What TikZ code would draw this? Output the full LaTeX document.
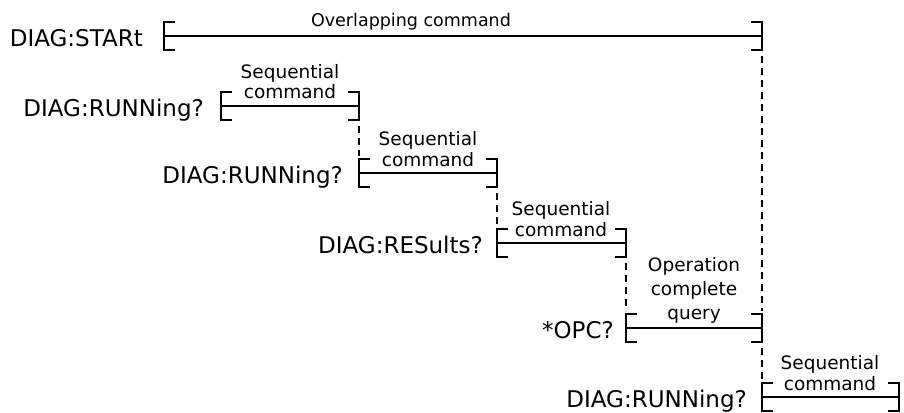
\documentclass[tikz,border=0pt]{standalone}
\usepackage{fontspec}
\setmainfont{DejaVu Sans}
\begin{document}
\begin{tikzpicture}[x=1pt,y=-1pt,
  span/.style={minimum height=28pt, inner sep=0pt, outer sep=0pt},
  brk/.style={line width=2.1pt},
  cmd/.style={font=\fontsize{23}{26}\selectfont, anchor=base east, inner sep=0pt},
  lbl/.style={font=\fontsize{18.5}{20}\selectfont, anchor=base, inner sep=0pt},
  wait/.style={dash pattern=on 7pt off 5pt, line width=1.7pt, shorten <=6pt, shorten >=3pt}]
\useasboundingbox (0,0) rectangle (904,412);

% spans (brackets)
\node[span, minimum width=598pt] (b1) at (463,36) {};
\node[span, minimum width=138pt] (b2) at (290,106) {};
\node[span, minimum width=138pt] (b3) at (428,173) {};
\node[span, minimum width=129pt] (b4) at (561.5,243) {};
\node[span, minimum width=136pt] (b5) at (694,328) {};
\node[span, minimum width=137pt] (b6) at (830.5,397) {};

\foreach \n in {b1,b2,b3,b4,b5,b6}{
  \draw[brk] ([xshift=11pt]\n.north west) -- (\n.north west) -- (\n.south west) -- ([xshift=11pt]\n.south west);
  \draw[brk] (\n.west) -- (\n.east);
  \draw[brk] ([xshift=-11pt]\n.north east) -- (\n.north east) -- (\n.south east) -- ([xshift=-11pt]\n.south east);
}

% commands
\node[cmd] (c1) at (143,47) {DIAG:STARt};
\node[cmd] (c2) at (204,116) {DIAG:RUNNing?};
\node[cmd] (c3) at (343,183) {DIAG:RUNNing?};
\node[cmd] (c4) at (483,253) {DIAG:RESults?};
\node[cmd] (c5) at (614,338) {*OPC?};
\node[cmd] (c6) at (747,407) {DIAG:RUNNing?};

% labels
\node[lbl, font=\fontsize{17.5}{20}\selectfont] (l1) at (411,27) {Overlapping command};
\node[lbl] (l2a) at (290,78) {Sequential};
\node[lbl] (l2b) at (290,98) {command};
\node[lbl] (l3a) at (428,145) {Sequential};
\node[lbl] (l3b) at (428,166) {command};
\node[lbl] (l4a) at (561,215) {Sequential};
\node[lbl] (l4b) at (561,236) {command};
\node[lbl] (l5a) at (694,271) {Operation};
\node[lbl] (l5b) at (694,295) {complete};
\node[lbl] (l5c) at (694,319) {query};
\node[lbl] (l6a) at (830,369) {Sequential};
\node[lbl] (l6b) at (830,390) {command};

% waits
\draw[wait] (b1.south east) -- (b5.north east);
\draw[wait] (b5.south east) -- (b6.north west);
\draw[wait] (b2.south east) -- (b3.north west);
\draw[wait] (b3.south east) -- (b4.north west);
\draw[wait] (b4.south east) -- (b5.north west);
\end{tikzpicture}
\end{document}
